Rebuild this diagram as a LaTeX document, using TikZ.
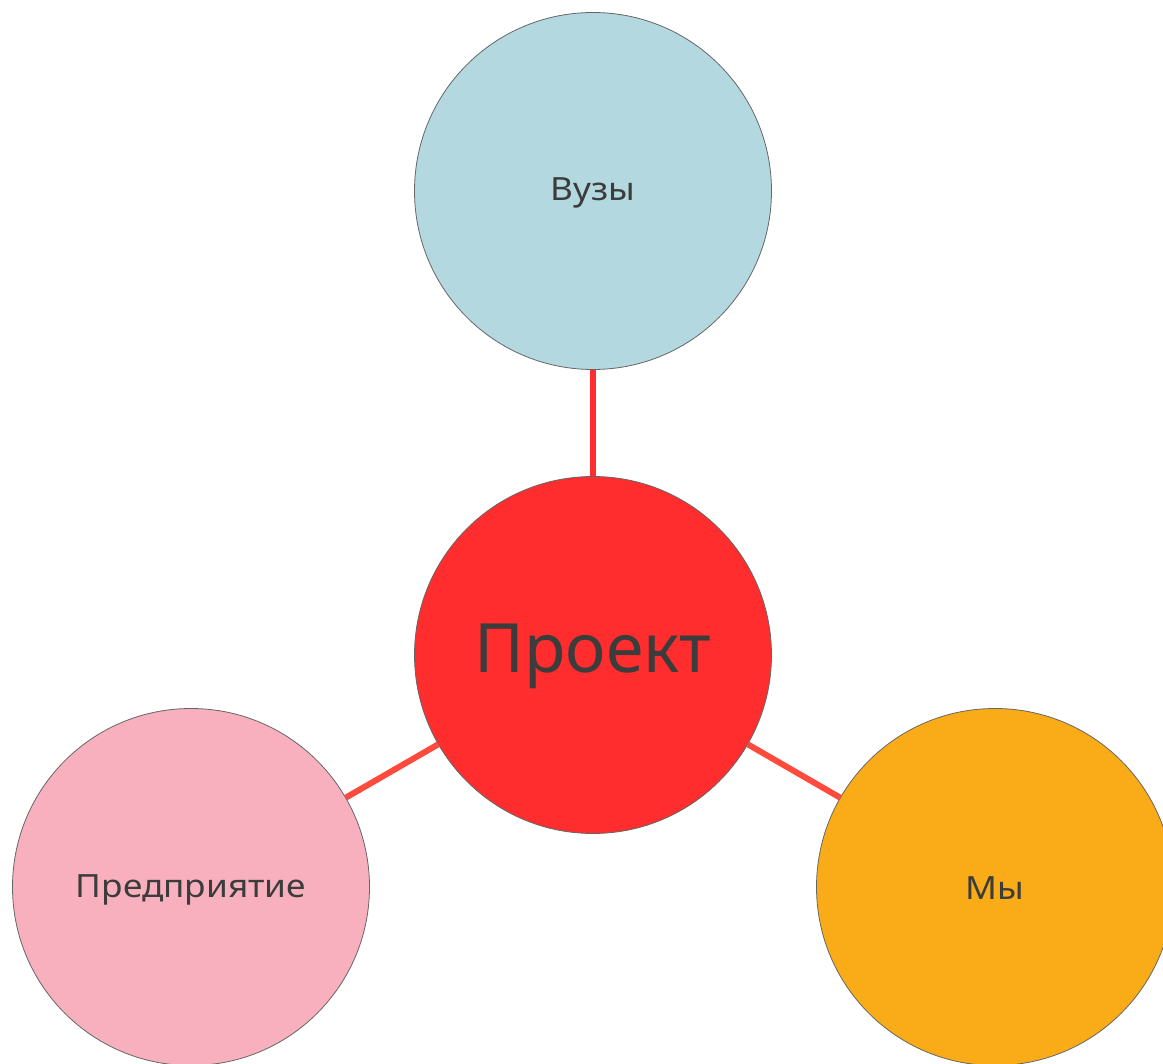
\documentclass[tikz,border=0pt]{standalone}
\usepackage{fontspec}
\setmainfont{Noto Sans}
\newfontfamily\widefont[FakeStretch=1.1]{Noto Sans}
\definecolor{txt}{HTML}{3C3C3C}
\definecolor{cblue}{HTML}{B3D8DF}
\definecolor{cred}{HTML}{FF2D2D}
\definecolor{cpink}{HTML}{F8B0BE}
\definecolor{corange}{HTML}{F9AC17}
\definecolor{linkA}{HTML}{FF2D2D}
\definecolor{linkB}{HTML}{FF4A3E}
\tikzset{
  bubble/.style={circle, minimum size=357pt, inner sep=0pt, draw=black!60, line width=0.8pt, text=txt},
  small/.style={font=\widefont\fontsize{32}{36}\selectfont},
  link/.style={line width=6pt},
}
\begin{document}
\begin{tikzpicture}[x=1pt,y=-1pt]
\useasboundingbox (0,0) rectangle (1163,1064);
\clip (0,0) rectangle (1163,1064);
\node[bubble, fill=cblue] (vuz) at (593,191) {};
\node[bubble, fill=cred] (proj) at (593,655) {};
\node[bubble, fill=cpink] (pred) at (191,887) {};
\node[bubble, fill=corange] (my) at (995,887) {};
\node[small, text=txt] (vuzt) at ([yshift=-2pt]vuz.center) {Вузы};
\node[font=\fontsize{68}{76}\selectfont, text=txt] (projt) at ([yshift=-1pt]proj.center) {Проект};
\node[small, text=txt] (predt) at ([yshift=-3pt]pred.center) {Предприятие};
\node[small, text=txt] (myt) at ([yshift=-1pt]my.center) {Мы};
\draw[link, linkA] (vuz) -- (proj);
\draw[link, linkB] (pred) -- (proj);
\draw[link, linkB] (my) -- (proj);
\end{tikzpicture}
\end{document}
